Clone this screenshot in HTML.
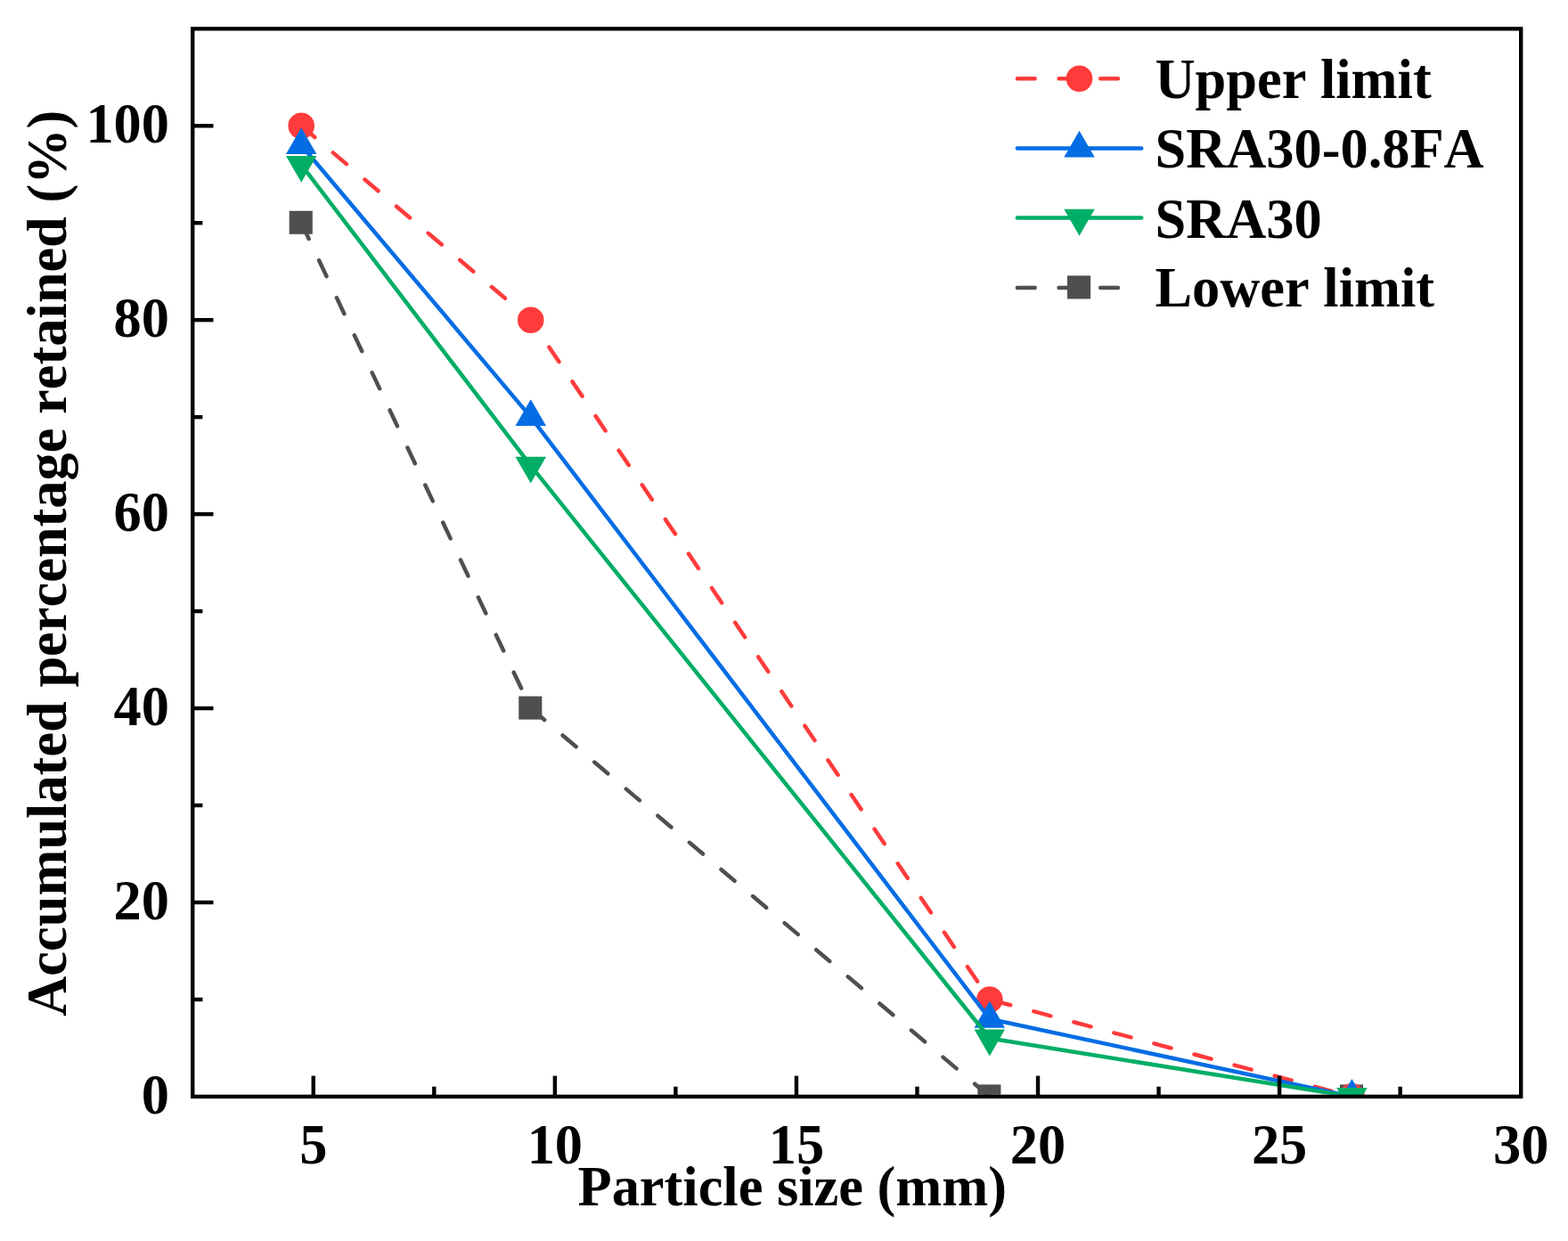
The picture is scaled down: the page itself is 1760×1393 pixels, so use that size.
<!DOCTYPE html>
<html lang="en"><head><meta charset="utf-8"><title>Particle size distribution</title>
<style>
html,body{margin:0;padding:0;background:#fff;}
body{width:1760px;height:1393px;overflow:hidden;}
svg{display:block;}
text{font-family:"Liberation Serif",serif;font-weight:bold;font-size:62.4px;fill:#000;font-kerning:none;font-variant-ligatures:none;}
</style></head><body>
<svg width="1760" height="1393" viewBox="0 0 1760 1393">
<rect x="0" y="0" width="1760" height="1393" fill="#ffffff"/>
<defs><clipPath id="plot"><rect x="218.4" y="34.5" width="1486.6" height="1194.2"/></clipPath></defs>
<g clip-path="url(#plot)">
<line x1="338.19" y1="250.23" x2="595.73" y2="795.05" stroke="#4F4F4F" stroke-width="4.5" stroke-linecap="round" stroke-dasharray="19.75 26.75" stroke-dashoffset="0.00"/>
<line x1="595.73" y1="795.05" x2="1110.80" y2="1230.90" stroke="#4F4F4F" stroke-width="4.5" stroke-linecap="round" stroke-dasharray="19.75 26.85" stroke-dashoffset="46.20"/>
<rect x="324.69" y="236.73" width="26.1" height="26.1" fill="#4F4F4F"/>
<rect x="582.23" y="781.55" width="26.1" height="26.1" fill="#4F4F4F"/>
<rect x="1097.30" y="1217.40" width="26.1" height="26.1" fill="#4F4F4F"/>
<rect x="1503.94" y="1217.40" width="26.1" height="26.1" fill="#4F4F4F"/>
<line x1="338.19" y1="141.26" x2="595.73" y2="359.19" stroke="#FF3B3B" stroke-width="4.5" stroke-linecap="round" stroke-dasharray="19.75 26.90" stroke-dashoffset="0.00"/>
<line x1="595.73" y1="359.19" x2="1110.80" y2="1121.94" stroke="#FF3B3B" stroke-width="4.5" stroke-linecap="round" stroke-dasharray="19.75 26.87" stroke-dashoffset="9.75"/>
<line x1="1110.80" y1="1121.94" x2="1517.44" y2="1230.90" stroke="#FF3B3B" stroke-width="4.5" stroke-linecap="round" stroke-dasharray="19.75 26.90" stroke-dashoffset="42.10"/>
<circle cx="338.19" cy="141.26" r="14.8" fill="#FF3B3B"/>
<circle cx="595.73" cy="359.19" r="14.8" fill="#FF3B3B"/>
<circle cx="1110.80" cy="1121.94" r="14.8" fill="#FF3B3B"/>
<circle cx="1517.44" cy="1230.90" r="14.8" fill="#FF3B3B"/>
<polyline points="338.19,163.06 595.73,468.15 1110.80,1143.73 1517.44,1230.90" fill="none" stroke="#046DE4" stroke-width="4.5" stroke-linecap="round" stroke-linejoin="round"/>
<polygon points="338.19,143.14 320.94,173.02 355.44,173.02" fill="#046DE4"/>
<polygon points="595.73,448.24 578.48,478.11 612.98,478.11" fill="#046DE4"/>
<polygon points="1110.80,1123.81 1093.55,1153.69 1128.05,1153.69" fill="#046DE4"/>
<polygon points="1517.44,1210.98 1500.19,1240.86 1534.69,1240.86" fill="#046DE4"/>
<polyline points="338.19,184.85 595.73,522.64 1110.80,1165.52 1517.44,1230.90" fill="none" stroke="#00AE66" stroke-width="4.5" stroke-linecap="round" stroke-linejoin="round"/>
<polygon points="338.19,204.77 320.94,174.89 355.44,174.89" fill="#00AE66"/>
<polygon points="595.73,542.55 578.48,512.68 612.98,512.68" fill="#00AE66"/>
<polygon points="1110.80,1185.44 1093.55,1155.56 1128.05,1155.56" fill="#00AE66"/>
<polygon points="1517.44,1250.82 1500.19,1220.94 1534.69,1220.94" fill="#00AE66"/>
</g>
<g stroke="#000" stroke-width="4.4" fill="none">
<line x1="351.75" y1="1230.9" x2="351.75" y2="1207.60"/>
<line x1="622.84" y1="1230.9" x2="622.84" y2="1207.60"/>
<line x1="893.93" y1="1230.9" x2="893.93" y2="1207.60"/>
<line x1="1165.02" y1="1230.9" x2="1165.02" y2="1207.60"/>
<line x1="1436.11" y1="1230.9" x2="1436.11" y2="1207.60"/>
<line x1="487.29" y1="1230.9" x2="487.29" y2="1219.70"/>
<line x1="758.38" y1="1230.9" x2="758.38" y2="1219.70"/>
<line x1="1029.47" y1="1230.9" x2="1029.47" y2="1219.70"/>
<line x1="1300.56" y1="1230.9" x2="1300.56" y2="1219.70"/>
<line x1="1571.65" y1="1230.9" x2="1571.65" y2="1219.70"/>
<line x1="216.2" y1="1012.97" x2="239.50" y2="1012.97"/>
<line x1="216.2" y1="795.05" x2="239.50" y2="795.05"/>
<line x1="216.2" y1="577.12" x2="239.50" y2="577.12"/>
<line x1="216.2" y1="359.19" x2="239.50" y2="359.19"/>
<line x1="216.2" y1="141.26" x2="239.50" y2="141.26"/>
<line x1="216.2" y1="1121.94" x2="227.40" y2="1121.94"/>
<line x1="216.2" y1="904.01" x2="227.40" y2="904.01"/>
<line x1="216.2" y1="686.08" x2="227.40" y2="686.08"/>
<line x1="216.2" y1="468.15" x2="227.40" y2="468.15"/>
<line x1="216.2" y1="250.23" x2="227.40" y2="250.23"/>
<rect x="216.2" y="32.3" width="1491.0" height="1198.6000000000001"/>
</g>
<text x="351.75" y="1306.0" text-anchor="middle">5</text>
<text x="622.84" y="1306.0" text-anchor="middle">10</text>
<text x="893.93" y="1306.0" text-anchor="middle">15</text>
<text x="1165.02" y="1306.0" text-anchor="middle">20</text>
<text x="1436.11" y="1306.0" text-anchor="middle">25</text>
<text x="1707.20" y="1306.0" text-anchor="middle">30</text>
<text x="190.0" y="1249.90" text-anchor="end">0</text>
<text x="190.0" y="1031.97" text-anchor="end">20</text>
<text x="190.0" y="814.05" text-anchor="end">40</text>
<text x="190.0" y="596.12" text-anchor="end">60</text>
<text x="190.0" y="378.19" text-anchor="end">80</text>
<text x="190.0" y="160.26" text-anchor="end">100</text>
<text x="889.3" y="1353.3" text-anchor="middle">Particle size (mm)</text>
<text transform="translate(74.0 632.2) rotate(-90)" text-anchor="middle">Accumulated percentage retained (%)</text>
<line x1="1141.9" y1="88.2" x2="1281.2" y2="88.2" stroke="#FF3B3B" stroke-width="4.5" stroke-linecap="round" stroke-dasharray="19.75 26.9"/>
<circle cx="1211.50" cy="88.20" r="14.8" fill="#FF3B3B"/>
<text x="1296.5" y="110.1">Upper limit</text>
<line x1="1141.9" y1="166.6" x2="1281.2" y2="166.6" stroke="#046DE4" stroke-width="4.5" stroke-linecap="round"/>
<polygon points="1211.50,146.68 1194.25,176.56 1228.75,176.56" fill="#046DE4"/>
<text x="1296.5" y="188.2">SRA30-0.8FA</text>
<line x1="1141.9" y1="244.5" x2="1281.2" y2="244.5" stroke="#00AE66" stroke-width="4.5" stroke-linecap="round"/>
<polygon points="1211.50,264.67 1194.25,234.79 1228.75,234.79" fill="#00AE66"/>
<text x="1296.5" y="266.6">SRA30</text>
<line x1="1141.9" y1="322.9" x2="1281.2" y2="322.9" stroke="#4F4F4F" stroke-width="4.5" stroke-linecap="round" stroke-dasharray="19.75 26.9"/>
<rect x="1198.00" y="309.40" width="26.1" height="26.1" fill="#4F4F4F"/>
<text x="1296.5" y="344.1">Lower limit</text>
</svg>
</body></html>
